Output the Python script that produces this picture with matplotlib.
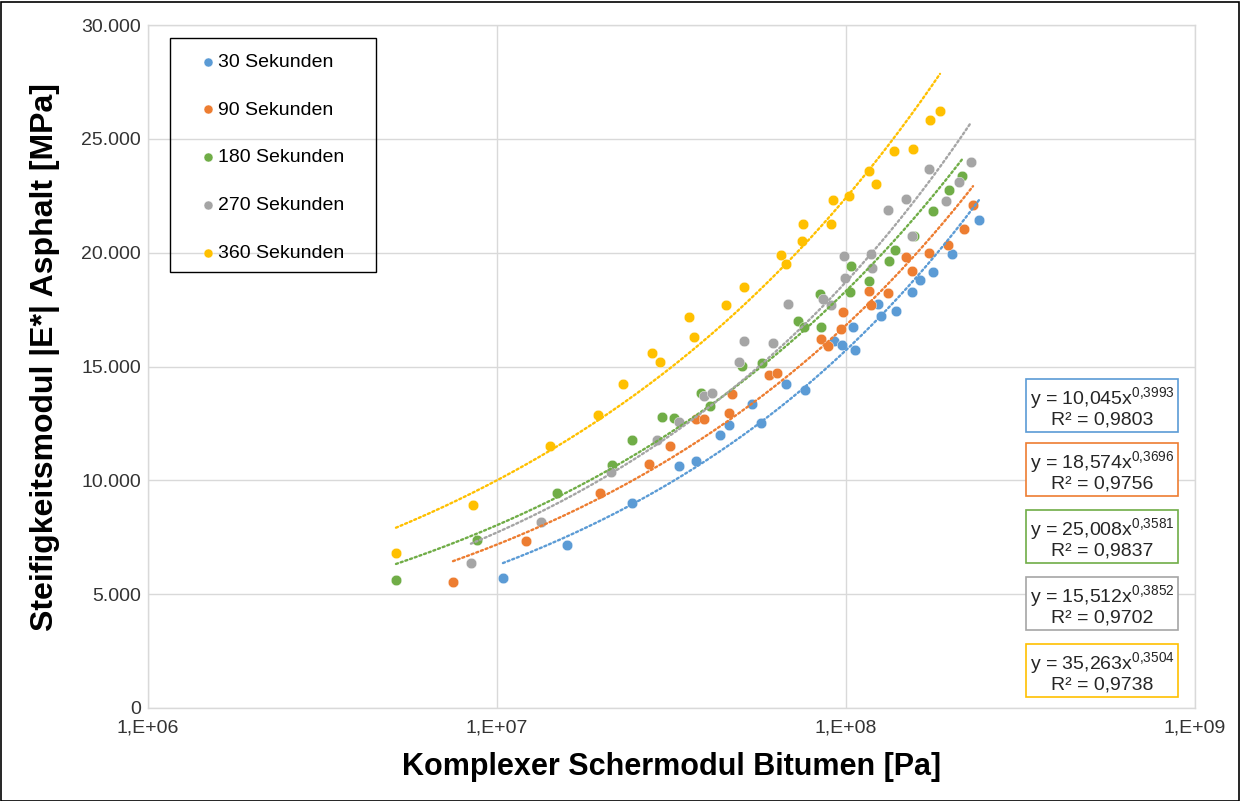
import numpy as np
import matplotlib.pyplot as plt
from matplotlib.patches import Rectangle
from matplotlib.ticker import FixedLocator, FuncFormatter, NullLocator

plt.rcParams['font.family'] = ['Liberation Sans', 'DejaVu Sans']
plt.rcParams['mathtext.fontset'] = 'custom'
plt.rcParams['mathtext.rm'] = 'Liberation Sans'
plt.rcParams['mathtext.default'] = 'regular'

labels = ['30 Sekunden', '90 Sekunden', '180 Sekunden', '270 Sekunden', '360 Sekunden']
colors = ['#5B9BD5', '#ED7D31', '#70AD47', '#A5A5A5', '#FFC000']

# |G*| Bitumen [Pa] and |E*| Asphalt [MPa] per loading time
g30 = [1.04e7, 1.59e7, 2.44e7, 3.32e7, 3.72e7, 4.36e7, 4.62e7, 5.38e7, 5.71e7, 6.73e7, 7.63e7, 9.24e7,
       9.74e7, 1.047e8, 1.061e8, 1.235e8, 1.26e8, 1.391e8, 1.546e8, 1.629e8, 1.775e8, 2.012e8, 2.405e8]
e30 = [5710, 7160, 9000, 10630, 10850, 11990, 12430, 13350, 12520, 14230, 13970, 16120,
       15940, 16740, 15720, 17750, 17220, 17440, 18270, 18800, 19150, 19940, 21440]

g90 = [7.48e6, 1.21e7, 1.973e7, 2.726e7, 3.131e7, 3.72e7, 3.92e7, 4.62e7, 4.714e7, 6.017e7, 6.343e7, 8.48e7,
       8.88e7, 9.7e7, 9.8e7, 1.164e8, 1.179e8, 1.319e8, 1.486e8, 1.546e8, 1.729e8, 1.96e8, 2.178e8, 2.312e8]
e90 = [5530, 7340, 9440, 10720, 11510, 12690, 12690, 12960, 13790, 14630, 14710, 16210,
       15900, 16650, 17390, 18320, 17700, 18230, 19810, 19190, 19990, 20340, 21040, 22090]

g180 = [5.135e6, 8.76e6, 1.486e7, 2.136e7, 2.44e7, 2.97e7, 3.215e7, 3.842e7, 4.076e7, 5.035e7, 5.745e7, 7.287e7,
        7.582e7, 8.48e7, 8.425e7, 1.027e8, 1.034e8, 1.164e8, 1.328e8, 1.382e8, 1.566e8, 1.775e8, 1.973e8, 2.15e8]
e180 = [5620, 7380, 9440, 10670, 11770, 12780, 12740, 13840, 13270, 15020, 15150, 17000,
        16740, 16740, 18180, 18270, 19410, 18760, 19630, 20120, 20730, 21830, 22750, 23370]

g270 = [8.42e6, 1.337e7, 2.122e7, 2.873e7, 3.32e7, 3.92e7, 4.13e7, 4.936e7, 5.102e7, 6.177e7, 6.82e7, 8.59e7,
        9.06e7, 9.87e7, 9.93e7, 1.179e8, 1.187e8, 1.319e8, 1.486e8, 1.546e8, 1.729e8, 1.934e8, 2.108e8, 2.282e8]
e270 = [6370, 8170, 10370, 11770, 12560, 13700, 13840, 15200, 16120, 16030, 17750, 17960,
        17700, 19850, 18890, 19940, 19330, 21870, 22360, 20730, 23680, 22270, 23100, 23980]

g360 = [5.135e6, 8.54e6, 1.419e7, 1.947e7, 2.296e7, 2.781e7, 2.931e7, 3.549e7, 3.668e7, 4.532e7, 5.102e7, 6.513e7,
        6.73e7, 7.48e7, 7.53e7, 9.06e7, 9.18e7, 1.02e8, 1.164e8, 1.219e8, 1.372e8, 1.556e8, 1.74e8, 1.859e8]
e360 = [6810, 8920, 11510, 12870, 14230, 15590, 15200, 17170, 16300, 17700, 18490, 19900,
        19500, 20510, 21260, 21260, 22310, 22490, 23590, 23020, 24470, 24550, 25830, 26220]

# power trend lines y = a * x^b
coef_a = [10.045, 18.574, 25.008, 15.512, 35.263]
coef_b = [0.3993, 0.3696, 0.3581, 0.3852, 0.3504]
r2 = [0.9803, 0.9756, 0.9837, 0.9702, 0.9738]

series_g = [g30, g90, g180, g270, g360]
series_e = [e30, e90, e180, e270, e360]

W, H = 1240, 801
fig = plt.figure(figsize=(W / 100, H / 100), dpi=100)
ax = fig.add_axes([148 / W, 1 - 708 / H, (1195 - 148) / W, (708 - 25) / H])

handles = []
for g, e, c, lab in zip(series_g, series_e, colors, labels):
    h = ax.scatter(g, e, s=58, color=c, edgecolors='white', linewidths=0.3, zorder=2, label=lab)
    handles.append(h)

for g, c, a, b in zip(series_g, colors, coef_a, coef_b):
    xs = np.geomspace(min(g), max(g), 200)
    ax.plot(xs, a * xs ** b, color=c, lw=1.7, ls=(0, (0.9, 1.2)), dash_capstyle='round', zorder=3)

ax.set_xscale('log')
ax.set_xlim(1e6, 1e9)
ax.set_ylim(0, 30000)
ax.xaxis.set_major_locator(FixedLocator([1e6, 1e7, 1e8, 1e9]))
ax.xaxis.set_minor_locator(NullLocator())
ax.yaxis.set_major_locator(FixedLocator(np.arange(0, 30001, 5000)))
ax.xaxis.set_major_formatter(FuncFormatter(lambda v, p: '1,E+%02d' % round(np.log10(v))))
ax.yaxis.set_major_formatter(FuncFormatter(lambda v, p: f'{int(v):,}'.replace(',', '.')))
ax.tick_params(axis='both', length=0, labelsize=14, labelcolor='#333333')
ax.tick_params(axis='y', pad=5)
ax.tick_params(axis='x', pad=8.5)
ax.grid(True, color='#d9d9d9', lw=1.0)
ax.set_axisbelow(True)
for sp in ax.spines.values():
    sp.set_color('#d9d9d9')
    sp.set_linewidth(1.0)

ax.set_xlabel('Komplexer Schermodul Bitumen [Pa]', fontsize=22, fontweight='bold')
ax.xaxis.set_label_coords(0.5, -0.064)
fig.text(45 / W, 1 - 357 / H, 'Steifigkeitsmodul |E*| Asphalt [MPa]', rotation=90,
         ha='center', va='center', fontsize=23, fontweight='bold')

# legend with a plain black frame
ax.legend(handles=handles, loc='upper left', bbox_to_anchor=(201 / W, 1 - 53 / H),
          bbox_transform=fig.transFigure, frameon=False, fontsize=14, borderpad=0,
          borderaxespad=0, handlelength=0.7, handletextpad=0.18, labelspacing=1.56,
          scatterpoints=1, markerscale=0.85)
fig.add_artist(Rectangle((170 / W, 1 - 272 / H), 206 / W, 234 / H, transform=fig.transFigure,
                         fill=False, ec='black', lw=1.0))

# trend line equations
box_y = [407, 471, 538, 605, 672]
for a, b, r, c, yy in zip(coef_a, coef_b, r2, colors, box_y):
    sa = f'{a:.3f}'.replace('.', ',')
    sb = f'{b:.4f}'.replace('.', '{,}')
    sr = f'{r:.4f}'.replace('.', ',')
    txt = f'y = {sa}x$^{{{sb}}}$\nR² = {sr}'
    fig.text(1102 / W, 1 - yy / H, txt, ha='center', va='center', ma='center', fontsize=14,
             linespacing=1.0, color='#262626',
             bbox=dict(boxstyle='square,pad=0.2', fc='white', ec=c, lw=1.2))

fig.add_artist(Rectangle((0.5 / W, 0.5 / H), (W - 2) / W, (H - 2) / H, transform=fig.transFigure,
                         fill=False, ec='black', lw=1.2))

fig.savefig('out.png', dpi=100)
plt.close(fig)
